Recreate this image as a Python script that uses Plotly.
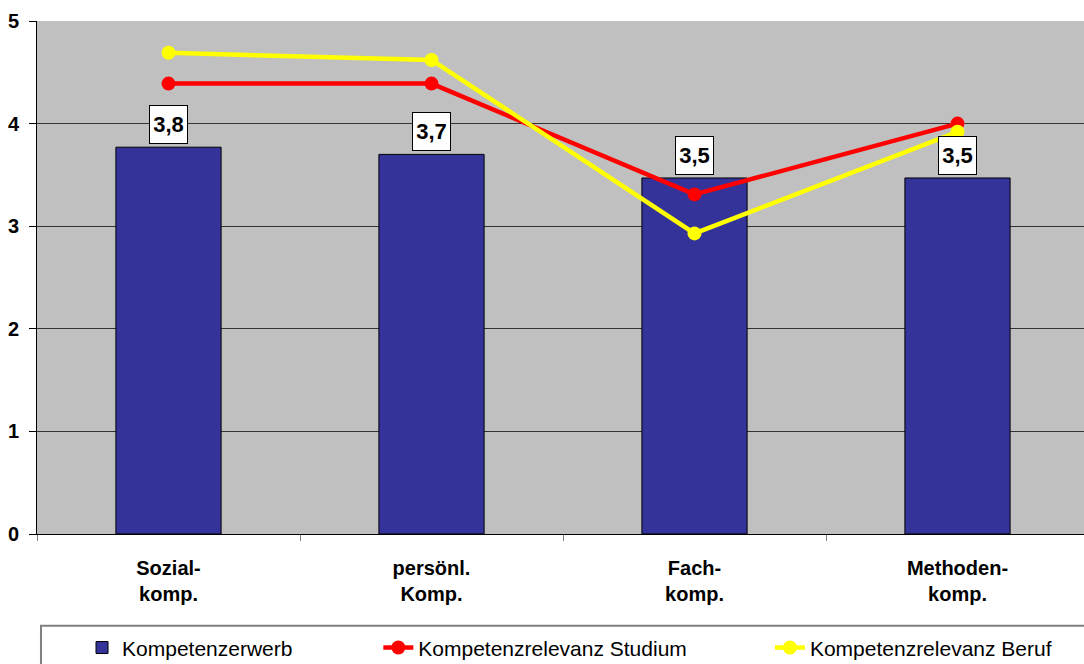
import plotly.graph_objects as go

categories = ["Sozial-<br>komp.", "persönl.<br>Komp.", "Fach-<br>komp.", "Methoden-<br>komp."]
erwerb = [3.77, 3.70, 3.47, 3.47]
studium = [4.39, 4.39, 3.31, 4.00]
beruf = [4.69, 4.62, 2.93, 3.92]
y_ticks = [0, 1, 2, 3, 4, 5]

FONT = "Liberation Sans, Arial, sans-serif"

fig = go.Figure()
fig.add_trace(go.Bar(
    x=categories, y=erwerb, name="Kompetenzerwerb",
    marker=dict(color="#333399", line=dict(color="black", width=1)),
    legend="legend", showlegend=True,
))
fig.add_trace(go.Scatter(
    x=categories, y=studium, name="Kompetenzrelevanz Studium",
    mode="lines+markers",
    line=dict(color="#FF0000", width=4.5),
    marker=dict(color="#FF0000", size=14),
    legend="legend2", showlegend=True,
))
fig.add_trace(go.Scatter(
    x=categories, y=beruf, name="Kompetenzrelevanz Beruf",
    mode="lines+markers",
    line=dict(color="#FFFF00", width=4.5),
    marker=dict(color="#FFFF00", size=14),
    legend="legend3", showlegend=True,
))

for c, v in zip(categories, erwerb):
    fig.add_annotation(
        x=c, y=v, text=f"<b>{v:.1f}</b>".replace(".", ","),
        showarrow=False, yanchor="bottom", yshift=3,
        width=35, height=35,
        bgcolor="white", bordercolor="black", borderwidth=1,
        font=dict(family=FONT, size=22, color="black"),
    )

# legend frame
fig.add_shape(type="rect", xref="paper", yref="paper",
              x0=0.0038, x1=1.02, y0=-0.27, y1=-0.179,
              line=dict(color="#808080", width=2), fillcolor="rgba(0,0,0,0)")

leg_common = dict(orientation="h", yanchor="middle", y=-0.222, xanchor="left",
                  bgcolor="rgba(0,0,0,0)", borderwidth=0,
                  font=dict(family=FONT, size=21, color="black"))

fig.update_layout(
    width=1084, height=664,
    margin=dict(l=37, r=0, t=21, b=130, autoexpand=False),
    paper_bgcolor="white", plot_bgcolor="#C0C0C0",
    bargap=0.6,
    showlegend=True,
    font=dict(family=FONT, color="black"),
    legend=dict(x=0.043, **leg_common),
    legend2=dict(x=0.326, **leg_common),
    legend3=dict(x=0.700, **leg_common),
    xaxis=dict(
        type="category", range=[-0.5, 3.481], automargin=False,
        showline=True, linecolor="black", linewidth=1,
        ticks="outside", tickson="boundaries", ticklen=6, tickcolor="#808080",
        showgrid=False,
        ticklabelstandoff=16,
        tickfont=dict(family=FONT, size=20, color="black", weight="bold"),
    ),
    yaxis=dict(
        range=[0, 5], tickvals=y_ticks, automargin=False,
        showline=True, linecolor="black", linewidth=1,
        ticks="outside", ticklen=7, tickcolor="black",
        showgrid=True, gridcolor="#333333", gridwidth=1,
        zeroline=False,
        ticklabelstandoff=6,
        tickfont=dict(family=FONT, size=20, color="black", weight="bold"),
    ),
)

fig.write_html("out.html")
